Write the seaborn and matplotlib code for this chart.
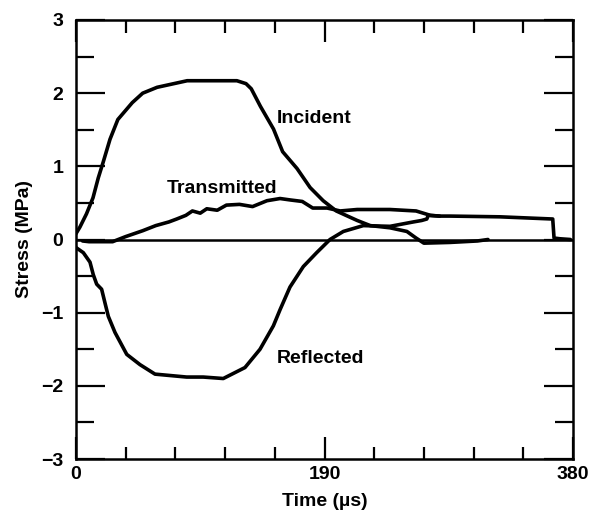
import numpy as np
import pandas as pd
import matplotlib
matplotlib.use("Agg")
import matplotlib.pyplot as plt
import seaborn as sns
from matplotlib.ticker import MultipleLocator

# ---- data ----
incident_t = [0, 3, 8, 13, 17, 21, 26, 32, 43, 51, 62, 85, 105, 123, 130, 134, 141, 151, 158,
              169, 179, 189, 199, 215, 225, 240, 253, 260, 266, 286, 307, 315]
incident_s = [0.08, 0.17, 0.35, 0.57, 0.84, 1.07, 1.37, 1.64, 1.87, 2.00, 2.08, 2.17, 2.17,
              2.17, 2.13, 2.06, 1.82, 1.51, 1.20, 0.97, 0.71, 0.53, 0.39, 0.26, 0.19, 0.16,
              0.11, 0.02, -0.05, -0.04, -0.02, 0.0]

transmitted_t = [5, 10, 28, 38, 51, 61, 71, 77, 84, 89, 95, 100, 108, 115, 125, 135, 146,
                 156, 164, 173, 181, 192, 202, 215, 240, 260, 271, 278, 286, 324, 364.5,
                 365.5, 370, 378]
transmitted_s = [-0.02, -0.03, -0.03, 0.04, 0.12, 0.19, 0.24, 0.28, 0.33, 0.39, 0.36, 0.42,
                 0.40, 0.47, 0.48, 0.45, 0.53, 0.56, 0.54, 0.52, 0.43, 0.43, 0.39, 0.41,
                 0.41, 0.39, 0.33, 0.32, 0.32, 0.31, 0.28, 0.02, 0.01, 0.0]

reflected_t = [0, 5.6, 10.7, 13.2, 15.8, 19.6, 22.2, 24.7, 29.8, 38.8, 48.9, 60.4, 84.6,
               97.3, 112.6, 129.2, 140.7, 150.9, 156, 163.6, 173.8, 184, 194.2, 204.4,
               219.7, 240.1, 257.9, 264.3, 268.2, 269.4, 278]
reflected_s = [-0.11, -0.18, -0.31, -0.48, -0.61, -0.68, -0.87, -1.05, -1.27, -1.57, -1.71,
               -1.84, -1.88, -1.88, -1.90, -1.75, -1.50, -1.18, -0.96, -0.65, -0.37, -0.18,
               0.00, 0.11, 0.19, 0.18, 0.24, 0.26, 0.28, 0.33, 0.32]

x_ticks = [0, 190, 380]
y_ticks = [-3, -2, -1, 0, 1, 2, 3]

# ---- style ----
sns.set_style("ticks")
plt.rcParams['font.family'] = ['Liberation Sans', 'DejaVu Sans']
plt.rcParams['font.weight'] = 'bold'
plt.rcParams['text.color'] = 'black'
plt.rcParams['axes.labelcolor'] = 'black'
plt.rcParams['xtick.color'] = 'black'
plt.rcParams['ytick.color'] = 'black'

fs = 14

fig = plt.figure(figsize=(5.91, 5.14), dpi=100)
ax = fig.add_axes([76/591, (514-459)/514, (573-76)/591, (459-20)/514])

lw = 2.6
df_i = pd.DataFrame({"t": incident_t, "s": incident_s})
df_t = pd.DataFrame({"t": transmitted_t, "s": transmitted_s})
df_r = pd.DataFrame({"t": reflected_t, "s": reflected_s})
for d in (df_i, df_t, df_r):
    sns.lineplot(data=d, x="t", y="s", sort=False, color="black", linewidth=lw, ax=ax,
                 estimator=None)

ax.axhline(0, color="black", linewidth=1.8)

ax.set_xlim(0, 380)
ax.set_ylim(-3, 3)
ax.set_xticks(x_ticks)
ax.set_yticks(y_ticks)
ax.set_xticklabels([str(v) for v in x_ticks])
ax.set_yticklabels([("\u2212" + str(-v) if v < 0 else str(v)) for v in y_ticks])
ax.xaxis.set_minor_locator(MultipleLocator(38))
ax.yaxis.set_minor_locator(MultipleLocator(0.5))

ax.tick_params(axis="both", which="both", direction="in", top=True, right=True,
               width=1.6, colors="black", labelsize=fs)
ax.tick_params(axis="x", which="major", length=16, pad=5)
ax.tick_params(axis="x", which="minor", length=9)
ax.tick_params(axis="y", which="major", length=21, pad=9)
ax.tick_params(axis="y", which="minor", length=13)
for lab in ax.get_xticklabels() + ax.get_yticklabels():
    lab.set_fontweight("bold")

for sp in ax.spines.values():
    sp.set_linewidth(1.8)
    sp.set_color("black")

ax.set_xlabel("Time (\u00b5s)", fontsize=fs, fontweight="bold", labelpad=7)
ax.set_ylabel("Stress (MPa)", fontsize=fs, fontweight="bold", labelpad=6)

ax.text(153.7, 1.65, "Incident", fontsize=fs, fontweight="bold", ha="left", va="center")
ax.text(111.6, 0.70, "Transmitted", fontsize=fs, fontweight="bold", ha="center", va="center")
ax.text(153.7, -1.62, "Reflected", fontsize=fs, fontweight="bold", ha="left", va="center")

fig.savefig("out.png", dpi=100)
